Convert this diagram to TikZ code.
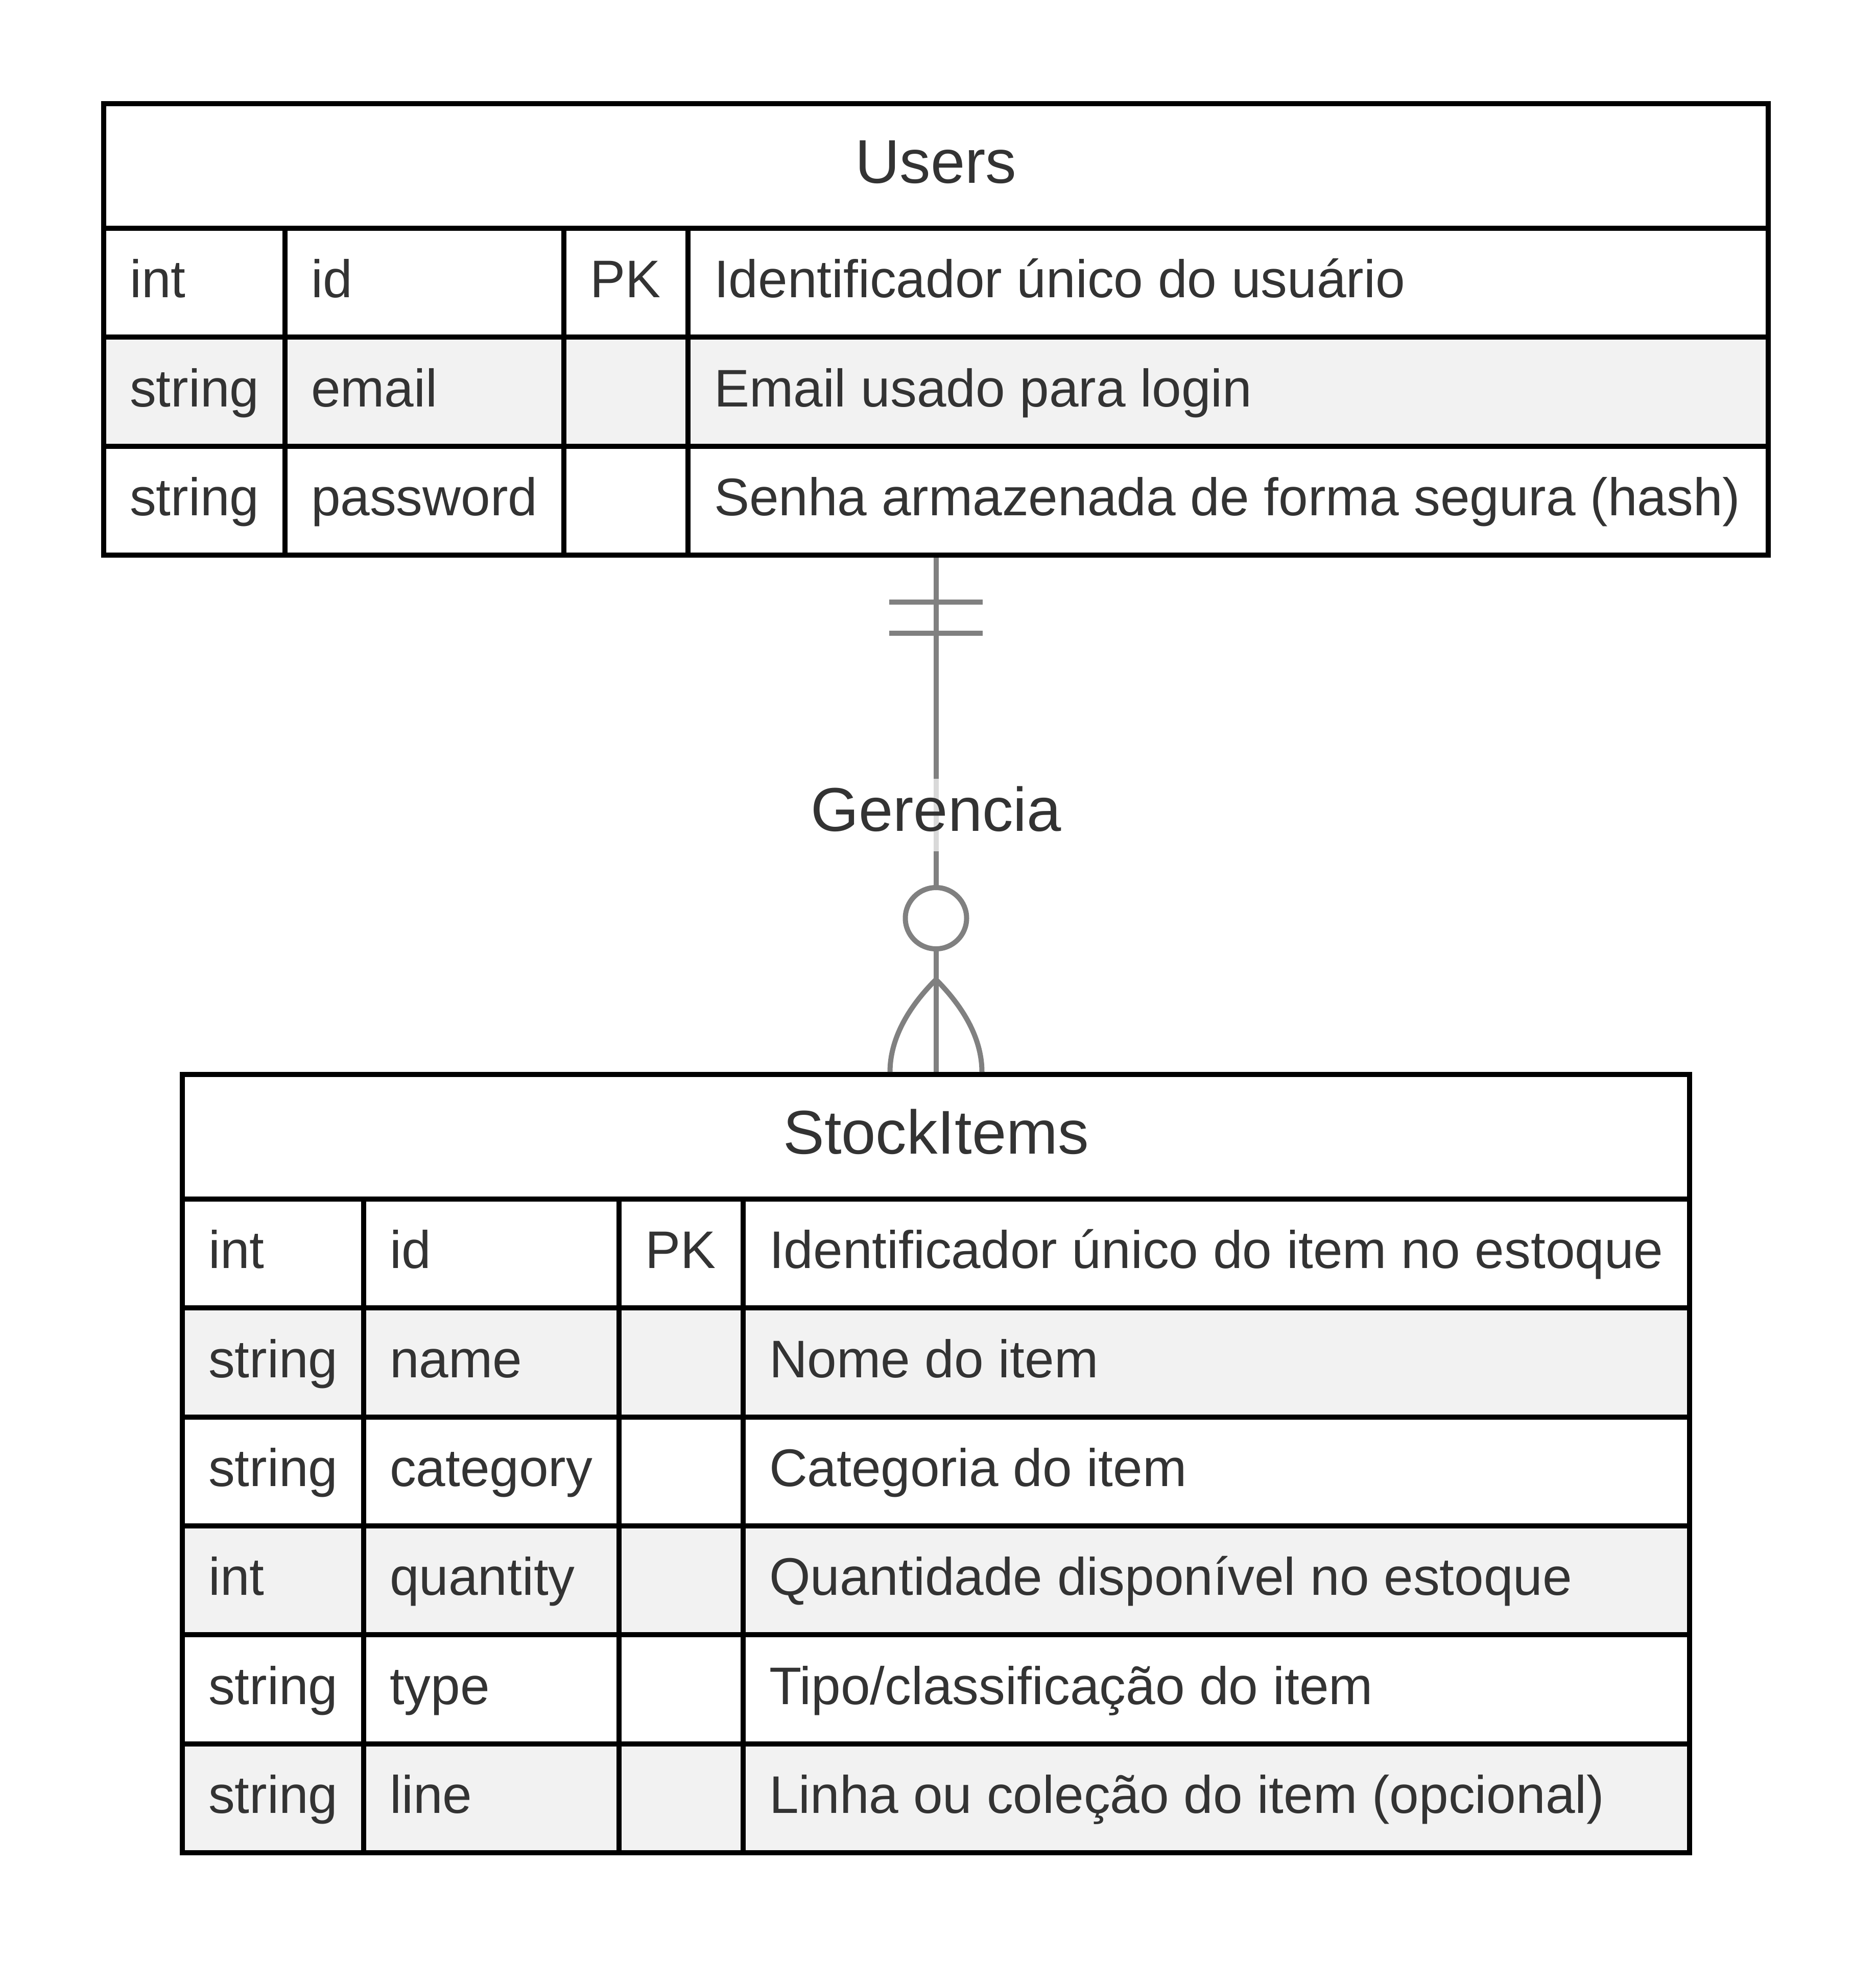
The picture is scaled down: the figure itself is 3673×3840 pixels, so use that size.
\documentclass[tikz,border=0pt]{standalone}
\usepackage{fontspec}
\setmainfont[Ligatures=CommonOff]{Liberation Sans}
\definecolor{txtgray}{HTML}{333333}
\definecolor{conngray}{HTML}{808080}
\definecolor{rowgray}{HTML}{F2F2F2}
\begin{document}
\begin{tikzpicture}[x=0.1pt,y=-0.1pt,
  tbl/.style={draw=black, line width=1pt, rectangle, inner sep=0pt, outer sep=0pt},
  gridline/.style={draw=black, line width=1pt},
  cell/.style={anchor=base west, inner sep=0pt, text=txtgray, font=\fontsize{10.36}{12}\selectfont},
  hdr/.style={anchor=base, inner sep=0pt, text=txtgray, font=\fontsize{12.1}{14}\selectfont},
  conn/.style={draw=conngray, line width=1pt},
  lbl/.style={anchor=base, fill=white, fill opacity=0.7, text opacity=1, text=txtgray,
              inner xsep=2pt, inner ysep=0pt, text height=10.2pt, text depth=4pt,
              font=\fontsize{12.1}{14}\selectfont}]
\useasboundingbox[fill=white] (0,0) rectangle (3673,3840);

% ---------- Users ----------
\fill[rowgray] (203,660.3) rectangle (3462,873.7);
\draw[gridline] (203,447) -- (3462,447);
\draw[gridline] (203,660.3) -- (3462,660.3);
\draw[gridline] (203,873.7) -- (3462,873.7);
\foreach \cx in {558,1104,1347} \draw[gridline] (\cx,447) -- (\cx,1087);
\node[tbl, minimum width=325.9pt, minimum height=88.4pt] (users) at (1832.5,645) {};
\node[hdr] (usersname) at (1832.5,358) {Users};

\node[cell] (u11) at (252,582.7) {int};
\node[cell] (u12) at (607,582.7) {id};
\node[cell] (u13) at (1153,582.7) {PK};
\node[cell] (u14) at (1396,582.7) {Identificador único do usuário};
\node[cell] (u21) at (252,796) {string};
\node[cell] (u22) at (607,796) {email};
\node[cell] (u24) at (1396,796) {Email usado para login};
\node[cell] (u31) at (252,1009.3) {string};
\node[cell] (u32) at (607,1009.3) {password};
\node[cell] (u34) at (1396,1009.3) {Senha armazenada de forma segura (hash)};

% ---------- StockItems ----------
\fill[rowgray] (357,2561.3) rectangle (3308,2774.7);
\fill[rowgray] (357,2988) rectangle (3308,3201.3);
\fill[rowgray] (357,3414.7) rectangle (3308,3628);
\foreach \ry in {2348,2561.3,2774.7,2988,3201.3,3414.7}
  \draw[gridline] (357,\ry) -- (3308,\ry);
\foreach \cx in {712,1212,1455} \draw[gridline] (\cx,2348) -- (\cx,3628);
\node[tbl, minimum width=295.1pt, minimum height=152.4pt] (stock) at (1832.5,2866) {};
\node[hdr] (stockname) at (1832.5,2259) {StockItems};

\node[cell] (s11) at (406,2483.7) {int};
\node[cell] (s12) at (761,2483.7) {id};
\node[cell] (s13) at (1261,2483.7) {PK};
\node[cell] (s14) at (1504,2483.7) {Identificador único do item no estoque};
\node[cell] (s21) at (406,2697) {string};
\node[cell] (s22) at (761,2697) {name};
\node[cell] (s24) at (1504,2697) {Nome do item};
\node[cell] (s31) at (406,2910.3) {string};
\node[cell] (s32) at (761,2910.3) {category};
\node[cell] (s34) at (1504,2910.3) {Categoria do item};
\node[cell] (s41) at (406,3123.7) {int};
\node[cell] (s42) at (761,3123.7) {quantity};
\node[cell] (s44) at (1504,3123.7) {Quantidade disponível no estoque};
\node[cell] (s51) at (406,3337) {string};
\node[cell] (s52) at (761,3337) {type};
\node[cell] (s54) at (1504,3337) {Tipo/classificação do item};
\node[cell] (s61) at (406,3550.3) {string};
\node[cell] (s62) at (761,3550.3) {line};
\node[cell] (s64) at (1504,3550.3) {Linha ou coleção do item (opcional)};

% ---------- Relationship ----------
\draw[conn, shorten <=0.5pt, shorten >=0.5pt] (users.south) -- (stock.north);
% exactly one (two bars)
\draw[conn] ([shift={(-91.5,92)}]users.south) -- ([shift={(91.5,92)}]users.south);
\draw[conn] ([shift={(-91.5,153)}]users.south) -- ([shift={(91.5,153)}]users.south);
% zero or more (circle + crow's foot)
\node[circle, draw=conngray, line width=1pt, fill=white, minimum size=12pt, inner sep=0pt] (zeroc) at (1832.5,1798) {};
\coordinate (apex) at ([shift={(0,-186)}]stock.north);
\draw[conn, shorten <=0.5pt] ([shift={(-90,0)}]stock.north) .. controls ([shift={(-90,-64)}]stock.north) and ([shift={(-60,-126)}]stock.north) .. (apex);
\draw[conn, shorten <=0.5pt] ([shift={(90,0)}]stock.north) .. controls ([shift={(90,-64)}]stock.north) and ([shift={(60,-126)}]stock.north) .. (apex);
% label
\node[lbl] (gerencia) at (1832.5,1627) {Gerencia};
\end{tikzpicture}
\end{document}
